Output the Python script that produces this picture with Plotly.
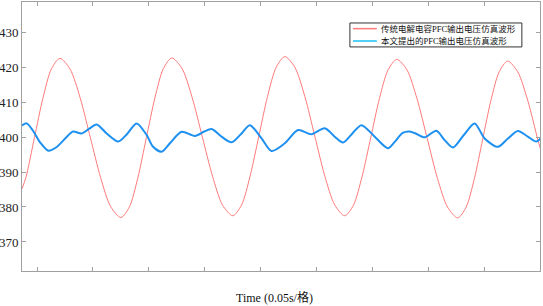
import plotly.graph_objects as go

# time in divisions (1 division = 0.05 s)
red_t = [-0.268, -0.197, -0.045, 0.107, 0.258, 0.41,
         0.59, 0.773, 0.955, 1.137, 1.318, 1.5,
         1.652, 1.803, 1.955, 2.107, 2.258, 2.41,
         2.592, 2.773, 2.955, 3.137, 3.318, 3.5,
         3.655, 3.81, 3.965, 4.12, 4.275, 4.43,
         4.608, 4.787, 4.965, 5.143, 5.322, 5.5,
         5.655, 5.81, 5.965, 6.12, 6.275, 6.43,
         6.612, 6.793, 6.975, 7.157, 7.338, 7.52,
         7.668, 7.817, 7.965, 8.113, 8.262, 8.41,
         8.59, 8.77, 8.95, 9.0]
red_v = [385.2, 388.5, 399.85, 411.2, 419.5, 422.5,
         419.45, 411.1, 399.75, 388.4, 380.05, 377.0,
         380.05, 388.4, 399.8, 411.2, 419.55, 422.6,
         419.6, 411.3, 400.05, 388.8, 380.5, 377.5,
         380.55, 388.9, 400.25, 411.6, 419.95, 423.0,
         419.95, 411.6, 400.25, 388.9, 380.55, 377.5,
         380.5, 388.7, 399.85, 411.0, 419.2, 422.2,
         419.2, 410.9, 399.55, 388.2, 379.95, 376.9,
         379.9, 388.1, 399.3, 410.5, 418.7, 421.7,
         418.7, 410.5, 399.3, 396.5]

blue_t = [-0.268, -0.184, -0.071, 0.054, 0.202, 0.339, 0.530, 0.643, 0.798, 0.929,
          1.066, 1.245, 1.452, 1.607, 1.780, 1.959, 2.071, 2.227, 2.375, 2.584,
          2.821, 2.982, 3.120, 3.298, 3.477, 3.643, 3.804, 4.013, 4.191, 4.429,
          4.666, 4.905, 5.143, 5.321, 5.470, 5.625, 5.798, 6.036, 6.273, 6.393,
          6.536, 6.661, 6.768, 6.929, 7.138, 7.286, 7.434, 7.625, 7.821, 8.000,
          8.238, 8.411, 8.595, 8.773, 8.923, 9.0]
blue_v = [403.3, 403.9, 401.8, 398.5, 396.1, 397.0, 400.0, 401.6, 401.0, 402.3,
          403.6, 401.0, 398.7, 400.8, 403.9, 400.6, 397.3, 395.8, 398.2, 401.5,
          400.3, 401.5, 402.3, 400.1, 398.5, 400.8, 403.4, 399.6, 396.0, 398.2,
          402.0, 400.8, 402.5, 400.1, 398.4, 400.8, 403.4, 400.1, 396.8, 398.6,
          401.2, 401.6, 401.0, 399.9, 401.8, 399.1, 397.0, 400.5, 403.9, 399.6,
          397.2, 399.5, 401.7, 400.1, 398.7, 399.6]

y_ticks = [370, 380, 390, 400, 410, 420, 430]
x_ticks = [0, 1, 2, 3, 4, 5, 6, 7, 8, 9]

name_red = "传统电解电容PFC输出电压仿真波形"
name_blue = "本文提出的PFC输出电压仿真波形"
x_title = "Time (0.05s/格)"

RED = "#FF7A7A"
BLUE = "#1E90F0"
font_fam = "Liberation Serif, Times New Roman, Noto Sans CJK SC, serif"

fig = go.Figure()
fig.add_trace(go.Scatter(x=red_t, y=red_v, mode="lines", name=name_red,
                         line=dict(color=RED, width=1, shape="spline", smoothing=0.8)))
fig.add_trace(go.Scatter(x=blue_t, y=blue_v, mode="lines", name=name_blue,
                         line=dict(color=BLUE, width=2, shape="spline", smoothing=0.8)))

axis_common = dict(showgrid=False, zeroline=False, showline=True, linecolor="#A0A0A0",
                   linewidth=1, mirror="ticks", ticks="inside", ticklen=4,
                   tickcolor="#A0A0A0", automargin=False,
                   tickfont=dict(family=font_fam, size=13, color="#222"))

fig.update_xaxes(range=[-0.268, 8.99], tickvals=x_ticks, showticklabels=False, **axis_common)
fig.update_yaxes(range=[361.7, 438.6], tickvals=y_ticks, ticklabelstandoff=0, **axis_common)

# compact legend box (paper coordinates)
lx0, lx1, ly0, ly1 = 0.633, 0.965, 0.833, 0.922
row_y = [0.901, 0.855]
shapes = [dict(type="rect", xref="paper", yref="paper", x0=lx0, x1=lx1, y0=ly0, y1=ly1,
               line=dict(color="#333", width=1), fillcolor="white", layer="above")]
annotations = []
for name, col, ry in [(name_red, RED, row_y[0]), (name_blue, "#19C0F5", row_y[1])]:
    shapes.append(dict(type="line", xref="paper", yref="paper", x0=0.639, x1=0.685,
                       y0=ry, y1=ry, line=dict(color=col, width=1.5), layer="above"))
    annotations.append(dict(text=name, xref="paper", yref="paper", x=0.690, y=ry,
                            xanchor="left", yanchor="middle", showarrow=False,
                            font=dict(family=font_fam, size=8.5, color="#111")))
annotations.append(dict(text=x_title, xref="paper", yref="paper", x=0.4865, y=-0.097,
                        xanchor="center", yanchor="middle", showarrow=False,
                        font=dict(family=font_fam, size=12, color="#111")))

fig.update_layout(
    width=543, height=306,
    margin=dict(l=22, r=3, t=2, b=35),
    paper_bgcolor="white", plot_bgcolor="white",
    showlegend=False,
    shapes=shapes, annotations=annotations,
)

fig.write_html("out.html", config={"displayModeBar": False},
               post_script="document.body.style.margin='0';")
